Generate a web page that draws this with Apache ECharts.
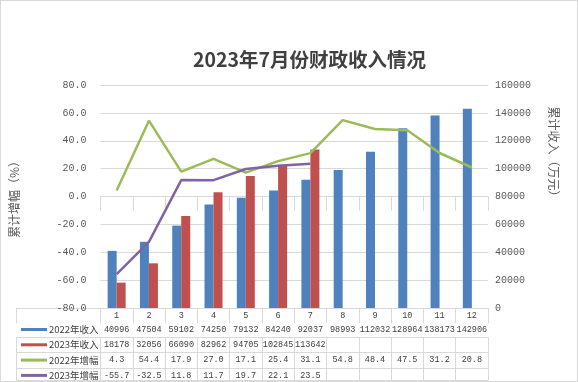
<!DOCTYPE html>
<html><head><meta charset="utf-8">
<script src="https://cdn.jsdelivr.net/npm/echarts@6/dist/echarts.min.js"></script>
<style>html,body{margin:0;padding:0;background:#fff}#main{width:578px;height:382px;position:relative}
#frame{position:absolute;left:0;top:0;width:576px;height:380px;border:1px solid #d9d9d9;pointer-events:none}</style>
</head><body><div id="main"></div><div id="frame"></div>
<script>
const months = ['1','2','3','4','5','6','7','8','9','10','11','12'];
const income2022 = [40996, 47504, 59102, 74250, 79132, 84240, 92037, 98993, 112032, 128964, 138173, 142906];
const income2023 = [18178, 32056, 66090, 82962, 94705, 102845, 113642];
const growth2022 = [4.3, 54.4, 17.9, 27.0, 17.1, 25.4, 31.1, 54.8, 48.4, 47.5, 31.2, 20.8];
const growth2023 = [-55.7, -32.5, 11.8, 11.7, 19.7, 22.1, 23.5];
const seriesNames = ['2022年收入', '2023年收入', '2022年增幅', '2023年增幅'];
const titleText = '2023年7月份财政收入情况';
const leftAxisName = '累计增幅（%）';
const rightAxisName = '累计收入（万元）';
const colors = ['#4F81BD', '#C0504D', '#9BBB59', '#8064A2'];

const pad = (arr) => months.map((m, i) => i < arr.length ? arr[i] : null);
const asText = (arr, dec) => months.map((m, i) => i < arr.length ? (dec ? arr[i].toFixed(1) : String(arr[i])) : '');

const GRID = '#d9d9d9';
const MONO = 'Liberation Mono';
const rowOffsets = [14, 29.3, 44.7, 60, 72];
const rowHeights = [15.3, 15.4, 15.3, 12, 0];
const tableRows = [asText(income2022, false), asText(income2023, false), asText(growth2022, true), asText(growth2023, true), months.map(() => '')];

const xAxes = [{
  type: 'category', gridIndex: 0, data: months, position: 'bottom',
  axisLine: {show: true, lineStyle: {color: GRID}},
  axisTick: {show: true, length: 14, interval: 0, lineStyle: {color: GRID}},
  axisLabel: {interval: 0, margin: 3, fontSize: 8.5, fontFamily: MONO, color: '#404040'},
  splitLine: {show: false}
}];
tableRows.forEach((row, k) => {
  xAxes.push({
    type: 'category', gridIndex: 0, data: row, position: 'bottom', offset: rowOffsets[k],
    axisLine: {show: true, lineStyle: {color: GRID}},
    axisTick: {show: rowHeights[k] > 0, length: rowHeights[k], interval: 0, lineStyle: {color: GRID}},
    axisLabel: {show: k < 4, interval: 0, margin: 3, fontSize: 8.5, fontFamily: MONO, color: '#404040'},
    splitLine: {show: false}
  });
});
rowOffsets.forEach((off, k) => {
  xAxes.push({
    type: 'category', gridIndex: 1, data: [''], position: 'bottom', offset: off,
    axisLine: {show: true, lineStyle: {color: GRID}},
    axisTick: {show: rowHeights[k] > 0, length: rowHeights[k], interval: 0, lineStyle: {color: GRID}},
    axisLabel: {show: false}, splitLine: {show: false}
  });
});

const chart = echarts.init(document.getElementById('main'), null, {renderer: 'canvas'});
chart.setOption({
  animation: false,
  color: colors,
  title: {text: titleText, left: 188, top: 45,
    textStyle: {fontSize: 19.5, fontWeight: 'bold', color: '#404040', fontFamily: 'Noto Sans CJK SC'}},
  legend: {
    data: seriesNames, orient: 'vertical', left: 21, top: 324, padding: 0,
    icon: 'rect', itemWidth: 26, itemHeight: 3, itemGap: 4.3,
    textStyle: {fontSize: 9.5, lineHeight: 11, color: '#404040', fontFamily: 'Noto Sans CJK SC', padding: [0,0,0,-3]},
    selectedMode: false
  },
  grid: [
    {left: 100.5, right: 90, top: 85, bottom: 74},
    {left: 16.7, width: 83.8, top: 85, bottom: 74}
  ],
  xAxis: xAxes,
  yAxis: [
    {type: 'value', gridIndex: 0, min: -80, max: 80, interval: 20, position: 'left',
     name: leftAxisName, nameLocation: 'middle', nameRotate: 90, nameGap: 80,
     nameTextStyle: {fontSize: 12, color: '#595959', fontFamily: 'Noto Sans CJK SC'},
     axisLine: {show: false}, axisTick: {show: false},
     axisLabel: {margin: 14, fontSize: 10, fontFamily: MONO, color: '#595959', formatter: v => v.toFixed(1)},
     splitLine: {show: true, lineStyle: {color: GRID}}},
    {type: 'value', gridIndex: 0, min: 0, max: 160000, interval: 20000, position: 'right',
     name: rightAxisName, nameLocation: 'middle', nameRotate: -90, nameGap: 60,
     nameTextStyle: {fontSize: 12, color: '#595959', fontFamily: 'Noto Sans CJK SC', padding: [0, 84, 0, 0]},
     axisLine: {show: false}, axisTick: {show: false},
     axisLabel: {margin: 7, fontSize: 10, fontFamily: MONO, color: '#595959', formatter: v => String(v)},
     splitLine: {show: false}},
    {type: 'value', gridIndex: 1, show: false}
  ],
  series: [
    {name: seriesNames[0], type: 'bar', xAxisIndex: 0, yAxisIndex: 1, data: pad(income2022), barWidth: 9, barGap: '0%', itemStyle: {color: colors[0]}},
    {name: seriesNames[1], type: 'bar', xAxisIndex: 0, yAxisIndex: 1, data: pad(income2023), barWidth: 9, barGap: '0%', itemStyle: {color: colors[1]}},
    {name: seriesNames[2], type: 'line', xAxisIndex: 0, yAxisIndex: 0, data: pad(growth2022), showSymbol: false, symbol: 'none', lineStyle: {width: 2.5, color: colors[2]}, itemStyle: {color: colors[2]}, z: 5},
    {name: seriesNames[3], type: 'line', xAxisIndex: 0, yAxisIndex: 0, data: pad(growth2023), showSymbol: false, symbol: 'none', lineStyle: {width: 2.5, color: colors[3]}, itemStyle: {color: colors[3]}, z: 5}
  ]
});
</script></body></html>
